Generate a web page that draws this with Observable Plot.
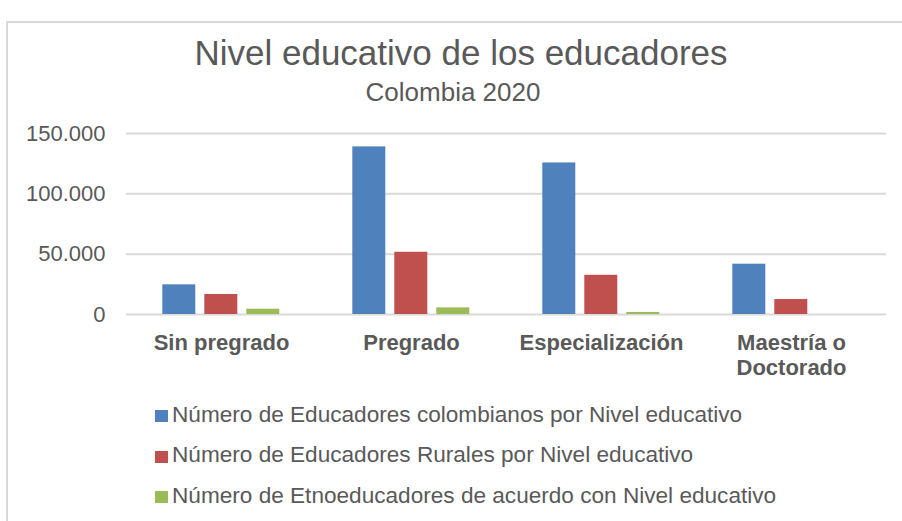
<!DOCTYPE html>
<html>
<head>
<meta charset="utf-8">
<script src="https://cdn.jsdelivr.net/npm/d3@7"></script>
<script src="https://cdn.jsdelivr.net/npm/@observablehq/plot@0.6"></script>
<style>
  html, body { margin: 0; padding: 0; background: #ffffff; width: 902px; height: 521px; overflow: hidden; }
  body { font-family: "Liberation Sans", Arial, sans-serif; color: #595959; position: relative; }
  #frame { position: absolute; left: 6px; top: 21px; width: 1000px; height: 600px; border-left: 2px solid #d9d9d9; border-top: 2px solid #d9d9d9; }
  #title { position: absolute; left: 0; width: 922px; top: 33.3px; text-align: center; font-size: 35px; line-height: normal; white-space: nowrap; }
  #subtitle { position: absolute; left: 0; width: 906px; top: 76.5px; text-align: center; font-size: 26px; line-height: normal; white-space: nowrap; }
  #chart { position: absolute; left: 0; top: 110px; }
  .lg { position: absolute; left: 155px; font-size: 22.6px; line-height: normal; white-space: nowrap; }
  .sw { position: absolute; left: 0; width: 13px; height: 12px; }
  .lt { position: absolute; left: 17px; top: 0; }
</style>
</head>
<body>
<div id="frame"></div>
<div id="title">Nivel educativo de los educadores</div>
<div id="subtitle">Colombia 2020</div>
<div id="chart"></div>
<div id="legend"></div>
<script>
const categories = ["Sin pregrado", "Pregrado", "Especialización", "Maestría o\nDoctorado"];
const series = [
  "Número de Educadores colombianos por Nivel educativo",
  "Número de Educadores Rurales por Nivel educativo",
  "Número de Etnoeducadores de acuerdo con Nivel educativo"
];
const colombianos = [24600, 138900, 125600, 41700];
const rurales = [16600, 51600, 32500, 12400];
const etnoeducadores = [4400, 5500, 1700, 0];
const yTicks = [0, 50000, 100000, 150000];
const colors = ["#4F81BD", "#C0504D", "#9BBB59"];

const valuesBySeries = [colombianos, rurales, etnoeducadores];
const data = [];
categories.forEach((c, i) => {
  series.forEach((s, j) => {
    data.push({category: c, series: s, value: valuesBySeries[j][i]});
  });
});

const fmt = d3.formatLocale({decimal: ",", thousands: ".", grouping: [3], currency: ["", ""]}).format(",");
const font = "'Liberation Sans', Arial, sans-serif";

const chart = Plot.plot({
  width: 902,
  height: 280,
  marginLeft: 125.7,
  marginRight: 15.3,
  marginTop: 23,
  marginBottom: 76,
  style: {fontFamily: font, color: "#595959", background: "transparent", overflow: "visible"},
  fx: {domain: categories, padding: 0, axis: null},
  x: {domain: series, paddingInner: 0.22, paddingOuter: 0.86, axis: null},
  y: {domain: [0, 150000], axis: null},
  color: {domain: series, range: colors},
  marks: [
    Plot.ruleY(yTicks, {stroke: "#d9d9d9", strokeWidth: 2}),
    Plot.barY(data, {fx: "category", x: "series", y: "value", fill: "series"}),
    Plot.axisY({ticks: yTicks, tickSize: 0, tickPadding: 21, fontSize: 22, fill: "#595959", tickFormat: fmt, label: null}),
    Plot.axisFx({anchor: "bottom", tickSize: 0, tickPadding: 17.4, fontSize: 22, fontWeight: "bold", fill: "#595959", lineHeight: 1.14, label: null})
  ]
});
document.getElementById("chart").appendChild(chart);

const legend = document.getElementById("legend");
const rowTops = [401.5, 442, 482.5];
series.forEach((s, j) => {
  const row = document.createElement("div");
  row.className = "lg";
  row.style.top = rowTops[j] + "px";
  const sw = document.createElement("div");
  sw.className = "sw";
  sw.style.background = colors[j];
  sw.style.top = "8.5px";
  const t = document.createElement("div");
  t.className = "lt";
  t.textContent = s;
  row.appendChild(sw);
  row.appendChild(t);
  legend.appendChild(row);
});
</script>
</body>
</html>
